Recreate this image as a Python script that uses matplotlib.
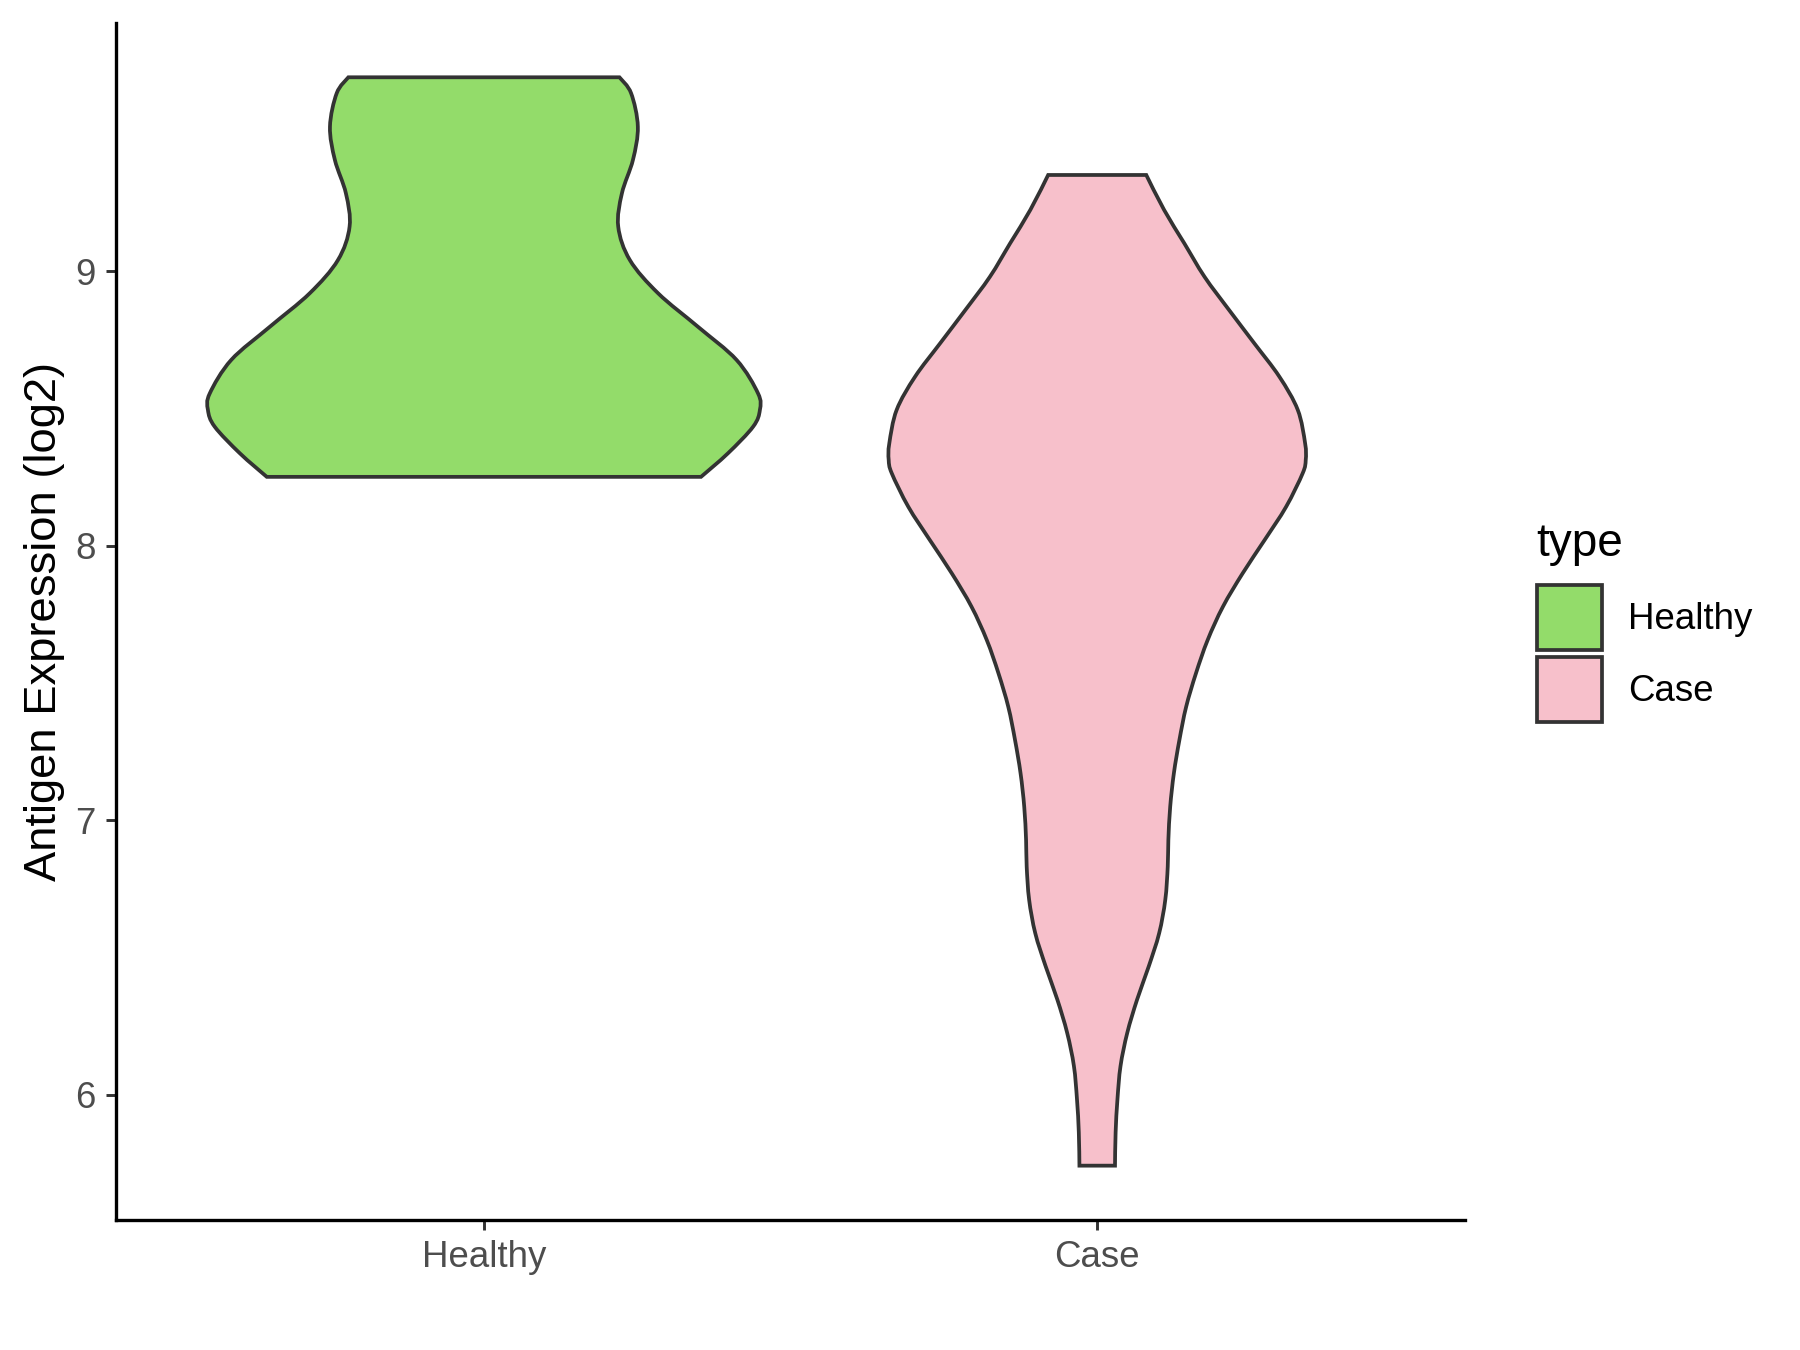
import numpy as np
import matplotlib
matplotlib.use("Agg")
import matplotlib.pyplot as plt
from matplotlib.path import Path
from matplotlib.patches import PathPatch, Patch

plt.rcParams["font.family"] = ["Liberation Sans", "DejaVu Sans"]

groups = ["Healthy", "Case"]
colors = ["#93DC6A", "#F7C0CB"]

# violin outlines: y level and half width (x units)
healthy_y = [9.707, 9.649, 9.527, 9.406, 9.284, 9.163, 9.041, 8.920, 8.798,
             8.677, 8.555, 8.495, 8.434, 8.337, 8.251]
healthy_half = [0.221, 0.240, 0.251, 0.243, 0.225, 0.219, 0.238, 0.284, 0.349,
                0.412, 0.447, 0.450, 0.439, 0.398, 0.354]

case_y = [9.351, 9.224, 9.102, 8.980, 8.859, 8.738, 8.616, 8.495, 8.373, 8.313,
          8.264, 8.142, 8.021, 7.899, 7.778, 7.656, 7.535, 7.413, 7.292, 7.171,
          7.049, 6.928, 6.831, 6.710, 6.588, 6.467, 6.346, 6.225, 6.104, 5.983,
          5.862, 5.741]
case_half = [0.080, 0.109, 0.142, 0.175, 0.215, 0.256, 0.297, 0.327, 0.339, 0.340,
             0.335, 0.308, 0.273, 0.237, 0.205, 0.180, 0.161, 0.145, 0.134, 0.125,
             0.119, 0.116, 0.115, 0.111, 0.101, 0.084, 0.065, 0.049, 0.038, 0.033,
             0.030, 0.029]

y_ticks = [6, 7, 8, 9]


def side_path(xs, ys):
    # smooth curve through the outline points (catmull-rom as bezier pieces)
    pts = np.column_stack([xs, ys])
    padded = np.vstack([pts[0], pts, pts[-1]])
    verts, codes = [], []
    for i in range(1, len(padded) - 2):
        p0, p1, p2, p3 = padded[i - 1], padded[i], padded[i + 1], padded[i + 2]
        verts += [tuple(p1 + (p2 - p0) / 6), tuple(p2 - (p3 - p1) / 6), tuple(p2)]
        codes += [Path.CURVE4] * 3
    return verts, codes


def violin(ax, pos, ys, half, color):
    ys = np.asarray(ys)
    half = np.asarray(half)
    right_v, right_c = side_path(pos + half, ys)
    left_v, left_c = side_path(pos - half[::-1], ys[::-1])
    verts = [(pos + half[0], ys[0])] + right_v + [(pos - half[-1], ys[-1])] + left_v + [(0, 0)]
    codes = [Path.MOVETO] + right_c + [Path.LINETO] + left_c + [Path.CLOSEPOLY]
    ax.add_patch(PathPatch(Path(verts, codes), facecolor=color,
                           edgecolor="#333333", lw=1.8))


fig = plt.figure(figsize=(12, 9), dpi=150)
ax = fig.add_axes([0.0644, 0.0963, 0.7496, 0.8867])

violin(ax, 1, healthy_y, healthy_half, colors[0])
violin(ax, 2, case_y, case_half, colors[1])

ax.set_xlim(0.4, 2.6)
ax.set_ylim(5.543, 9.905)
ax.set_xticks([1, 2])
ax.set_xticklabels(groups)
ax.set_yticks(y_ticks)

for s in ["top", "right"]:
    ax.spines[s].set_visible(False)
for s in ["left", "bottom"]:
    ax.spines[s].set_linewidth(1.6)
    ax.spines[s].set_color("black")

ax.tick_params(length=4.8, width=1.4, color="#333333", labelcolor="#4D4D4D",
               labelsize=17.6)
ax.tick_params(axis="x", pad=5)
ax.tick_params(axis="y", pad=5)
ax.set_ylabel("Antigen Expression (log2)", fontsize=21.8, color="black", labelpad=5)

# legend: title placed on its own, keys below it
fig.text(1536 / 1800, 1 - 556 / 1350, "type", fontsize=22, ha="left", va="baseline")
handles = [Patch(facecolor=c, edgecolor="#333333", lw=1.8) for c in colors]
leg = fig.legend(handles, groups, loc="upper left",
                 bbox_to_anchor=(1537 / 1800, 1 - 585 / 1350), frameon=False,
                 fontsize=17.6, handlelength=1.78, handleheight=2.36,
                 labelspacing=0.19, handletextpad=0.7, borderpad=0,
                 borderaxespad=0)

fig.savefig("out.png", dpi=150)
